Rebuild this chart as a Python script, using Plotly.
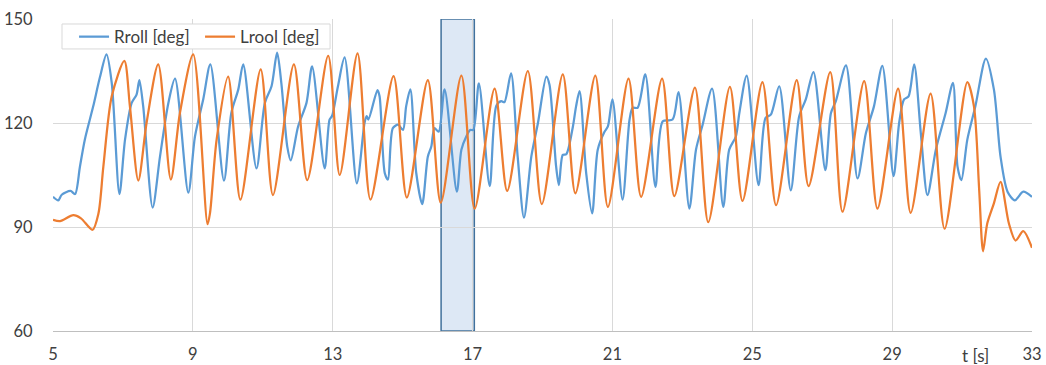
import plotly.graph_objects as go

# ---- data ----
rroll_t = [5.0, 5.15, 5.25, 5.5, 5.63, 5.77, 5.91, 6.15, 6.34, 6.53, 6.68, 6.9, 7.06, 7.25, 7.39, 7.47, 7.58,
           7.85, 8.06, 8.3, 8.49, 8.87, 9.06, 9.3, 9.5, 9.89, 10.1, 10.3, 10.44, 10.82, 11.06, 11.25, 11.41,
           11.53, 11.7, 11.8, 12.01, 12.25, 12.41, 12.77, 12.91, 12.98, 13.15, 13.34, 13.69, 13.91, 13.97,
           14.02, 14.28, 14.34, 14.49, 14.58, 14.72, 14.87, 15.01, 15.1, 15.22, 15.39, 15.56, 15.72, 15.82,
           15.91, 16.03, 16.2, 16.55, 16.68, 16.82, 16.93, 17.02, 17.18, 17.49, 17.68, 17.82, 17.91, 18.1,
           18.29, 18.47, 18.68, 18.87, 19.11, 19.2, 19.39, 19.47, 19.58, 19.68, 19.87, 19.96, 20.06, 20.25,
           20.42, 20.58, 20.77, 20.87, 21.0, 21.29, 21.49, 21.58, 21.72, 21.94, 22.23, 22.44, 22.72, 22.89,
           23.2, 23.39, 23.58, 23.85, 24.17, 24.34, 24.53, 24.63, 24.84, 25.18, 25.38, 25.53, 25.77, 26.1,
           26.34, 26.53, 26.75, 27.09, 27.25, 27.39, 27.68, 28.01, 28.25, 28.48, 28.72, 29.04, 29.2, 29.34,
           29.47, 29.63, 29.82, 30.01, 30.25, 30.53, 30.74, 30.87, 30.98, 31.15, 31.38, 31.68, 31.91, 32.1,
           32.3, 32.51, 32.75, 33.0]
rroll_v = [98.7, 97.7, 99.3, 100.4, 99.5, 107.4, 115.2, 124.8, 133.1, 139.8, 131.6, 99.5, 115.2, 125.8, 128.2, 132.4, 124.8,
           95.6, 110.3, 125.8, 132.8, 99.9, 116.1, 127.0, 136.9, 103.4, 122.9, 129.7, 136.9, 106.9, 125.8, 130.6, 140.3,
           131.6, 113.2, 109.2, 119.0, 125.8, 136.3, 106.9, 121.0, 122.0, 130.6, 138.9, 102.6, 120.0, 122.0,
           121.0, 129.5, 127.7, 105.5, 103.7, 118.5, 119.5, 118.0, 124.8, 129.7, 105.5, 96.6, 110.3, 113.2,
           118.5, 117.5, 129.7, 100.2, 112.3, 116.1, 118.0, 118.0, 131.4, 101.8, 125.0, 126.3, 126.0, 134.3,
           110.3, 92.7, 110.3, 120.0, 133.4, 131.0, 107.4, 102.1, 110.8, 111.0, 119.0, 124.8, 129.2, 105.5,
           93.9, 112.3, 117.4, 119.0, 126.8, 97.9, 121.0, 124.4, 124.4, 134.0, 101.6, 120.5, 121.0, 128.9,
           95.3, 112.3, 119.5, 129.9, 95.8, 112.3, 116.1, 122.9, 133.7, 102.1, 121.5, 122.4, 130.6, 100.6,
           121.9, 126.8, 134.7, 106.4, 122.9, 126.3, 136.6, 104.0, 117.1, 124.8, 136.5, 104.7, 120.0, 126.8,
           127.7, 136.9, 117.1, 99.2, 112.3, 122.9, 131.6, 107.4, 103.5, 115.2, 124.8, 138.6, 129.7, 110.3,
           100.2, 97.7, 100.2, 98.7]

lrool_t = [5.0, 5.2, 5.58, 5.8, 6.13, 6.3, 6.44, 6.68, 7.04, 7.2, 7.44, 7.68, 8.01, 8.37, 8.63, 9.01, 9.42,
           9.49, 9.68, 10.01, 10.36, 10.94, 11.29, 11.89, 12.27, 12.87, 13.2, 13.71, 14.08, 14.74, 15.12,
           15.72, 16.09, 16.68, 17.06, 17.63, 17.99, 18.58, 18.98, 19.58, 19.94, 20.51, 20.87, 21.46, 21.82,
           22.42, 22.77, 23.36, 23.74, 24.36, 24.72, 25.29, 25.68, 26.27, 26.61, 27.23, 27.58, 28.2, 28.58,
           29.17, 29.53, 30.1, 30.5, 31.15, 31.34, 31.49, 31.6, 31.72, 31.91, 32.1, 32.34, 32.53, 32.75, 33.0]
lrool_v = [92.1, 91.7, 93.4, 92.5, 89.2, 93.9, 107.4, 127.7, 137.9, 124.8, 103.4, 120.3, 136.9, 103.7, 122.9, 139.8, 90.8,
           94.0, 115.2, 133.4, 97.9, 135.5, 99.2, 136.9, 103.5, 139.4, 105.0, 140.1, 97.9, 133.5, 98.5,
           132.4, 97.0, 133.7, 95.3, 129.9, 100.4, 135.0, 96.6, 134.0, 99.7, 133.7, 95.8, 132.8, 98.7,
           132.8, 98.9, 130.2, 91.4, 130.4, 97.5, 131.8, 96.3, 132.4, 101.8, 134.7, 94.4, 132.1, 95.3,
           129.9, 94.1, 128.5, 89.5, 131.8, 124.8, 100.6, 83.0, 91.0, 96.8, 103.0, 91.0, 86.1, 88.8, 84.0]

window_t = [16.1, 17.05]          # highlighted interval
x_ticks = [5, 9, 13, 17, 21, 25, 29, 33]
y_ticks = [60, 90, 120, 150]
series_names = ["Rroll [deg]", "Lrool [deg]"]

BLUE = "#5B9BD5"
ORANGE = "#ED7D31"
GRID = "#D9D9D9"
TXT = "#404040"
FONT = "Lato"

fig = go.Figure()
fig.add_trace(go.Scatter(x=rroll_t, y=rroll_v, mode="lines", name=series_names[0],
                         line=dict(color=BLUE, width=2.25, shape="spline", smoothing=0.8)))
fig.add_trace(go.Scatter(x=lrool_t, y=lrool_v, mode="lines", name=series_names[1],
                         line=dict(color=ORANGE, width=2.25, shape="spline", smoothing=0.8)))

# highlighted time window
fig.add_shape(type="rect", xref="x", yref="y", x0=window_t[0], x1=window_t[1], y0=60, y1=150,
              fillcolor="#DDE8F5", line=dict(color="#41719C", width=1.5), layer="below")
# legend frame
fig.add_shape(type="rect", xref="paper", yref="paper", x0=0.0092, x1=0.283, y0=0.904, y1=0.984,
              fillcolor="white", line=dict(color=GRID, width=1), layer="above")

fig.add_annotation(text="t [s]", xref="paper", yref="paper", x=0.942, y=-0.078,
                   showarrow=False, font=dict(family=FONT, size=17, color=TXT),
                   xanchor="center", yanchor="middle")

fig.update_layout(
    width=1046, height=365,
    margin=dict(l=53, r=14, t=19, b=34, autoexpand=False),
    plot_bgcolor="white", paper_bgcolor="white",
    font=dict(family=FONT, size=16.5, color=TXT),
    showlegend=True,
    legend=dict(orientation="h", x=0.0215, y=0.942, xanchor="left", yanchor="middle",
                borderwidth=0, bgcolor="rgba(0,0,0,0)",
                font=dict(family=FONT, size=17, color=TXT),
                itemwidth=30, entrywidth=81, tracegroupgap=0),
    xaxis=dict(range=[5, 33], tickvals=x_ticks, ticktext=[str(v) for v in x_ticks],
               showgrid=True, gridcolor=GRID, gridwidth=1, zeroline=False, automargin=False,
               showline=True, linecolor="#BFBFBF", linewidth=1,
               ticks="outside", ticklen=8, tickcolor="rgba(0,0,0,0)",
               tickfont=dict(family=FONT, size=16.5, color=TXT)),
    yaxis=dict(range=[60, 150], tickvals=y_ticks, showgrid=True, gridcolor=GRID, gridwidth=1,
               zeroline=False, showline=False, automargin=False,
               ticks="outside", ticklen=16, tickcolor="rgba(0,0,0,0)",
               tickfont=dict(family=FONT, size=16.5, color=TXT)),
)

# remove the default 8px page margin so the 1046x365 figure fills the window exactly
fig.write_html("out.html", config={"displayModeBar": False},
               post_script="document.body.style.margin='0';document.body.style.overflow='hidden';")
